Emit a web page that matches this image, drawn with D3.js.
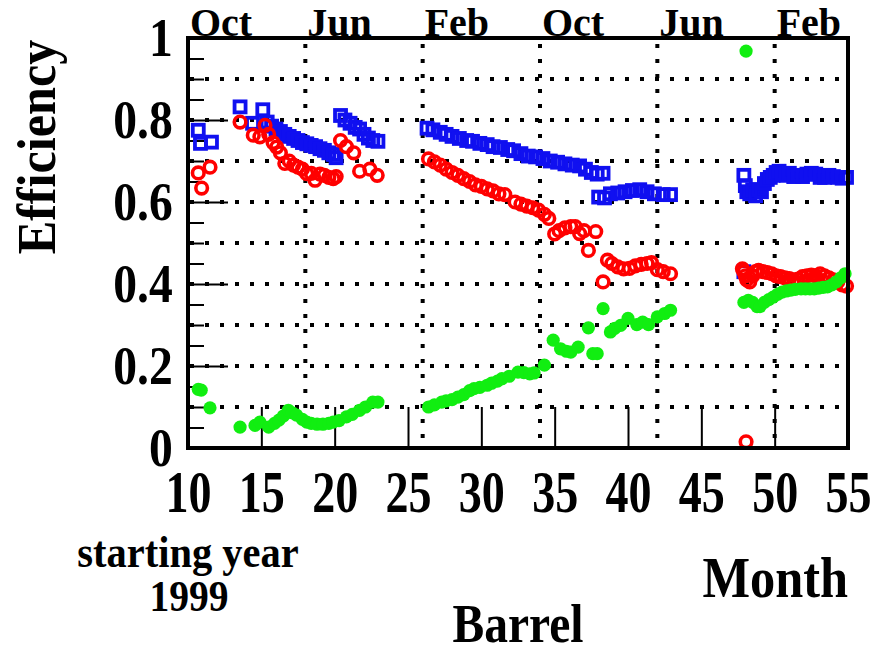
<!DOCTYPE html>
<html>
<head>
<meta charset="utf-8">
<script src="https://cdn.jsdelivr.net/npm/d3@7"></script>
<style>
  html, body { margin: 0; padding: 0; background: #fff; }
  svg { display: block; }
  text { font-family: "Liberation Serif", "DejaVu Serif", serif; font-weight: bold; fill: #000; }
</style>
</head>
<body>
<svg id="chart" width="874" height="655"></svg>
<script>
// ---------------- data ----------------
const xTicks = [10, 15, 20, 25, 30, 35, 40, 45, 50, 55];
const yTicks = [0, 0.2, 0.4, 0.6, 0.8, 1];
const yTickLabels = ["0", "0.2", "0.4", "0.6", "0.8", "1"];
const yMinorTicks = [0.05, 0.1, 0.15, 0.25, 0.3, 0.35, 0.45, 0.5, 0.55, 0.65, 0.7, 0.75, 0.85, 0.9, 0.95];
const yGrid = [0.1, 0.2, 0.3, 0.4, 0.5, 0.6, 0.7, 0.8, 0.9];
const monthPositions = [10, 18, 26, 34, 42, 50];
const monthLabels = ["Oct", "Jun", "Feb", "Oct", "Jun", "Feb"];

// blue open squares
const blueSquares = [
  [10.7,0.775],[10.85,0.743],[11.6,0.746],
  [13.55,0.832],[14.4,0.792],[15.1,0.825],[15.4,0.795],[15.7,0.785],[16.0,0.778],[16.3,0.772],
  [16.6,0.765],[16.9,0.760],[17.2,0.755],[17.5,0.750],[17.8,0.745],[18.1,0.742],[18.4,0.738],
  [18.7,0.735],[19.0,0.730],[19.3,0.726],[19.6,0.720],[19.9,0.716],[20.1,0.708],
  [20.4,0.811],[20.7,0.800],[21.05,0.792],[21.4,0.782],[21.7,0.778],[22.0,0.765],[22.3,0.756],[22.6,0.750],[22.95,0.748],
  [26.3,0.780],[26.7,0.776],[27.2,0.770],[27.6,0.765],[28.0,0.760],[28.5,0.755],[29.0,0.750],[29.4,0.748],
  [29.9,0.743],[30.4,0.740],[30.8,0.735],[31.3,0.733],[31.8,0.728],[32.2,0.725],[32.7,0.718],[33.2,0.712],
  [33.7,0.710],[34.2,0.706],[34.7,0.700],[35.2,0.697],[35.7,0.693],[36.2,0.690],[36.7,0.688],[37.1,0.680],
  [37.5,0.672],[37.9,0.668],[38.3,0.670],
  [38.0,0.612],[38.4,0.610],[38.8,0.620],[39.3,0.622],[39.8,0.625],[40.3,0.628],[40.8,0.630],[41.3,0.625],
  [41.8,0.620],[42.4,0.618],[42.9,0.618],
  [47.9,0.430],
  [47.9,0.665],[48.0,0.640],[48.1,0.625],[48.3,0.620],[48.5,0.630],[48.7,0.615],[48.9,0.630],[49.1,0.625],
  [49.3,0.645],[49.5,0.655],[49.7,0.660],[49.9,0.665],[50.1,0.672],[50.3,0.675],[50.5,0.668],[50.8,0.665],
  [51.0,0.670],[51.3,0.662],[51.6,0.665],[51.9,0.662],[52.2,0.668],[52.5,0.670],[52.8,0.668],[53.1,0.660],
  [53.4,0.660],[53.7,0.665],[54.0,0.662],[54.3,0.660],[54.6,0.658],[54.9,0.660]
];

// red open circles
const redCircles = [
  [10.7,0.671],[10.93,0.634],[11.5,0.685],
  [13.55,0.795],[14.45,0.763],[14.9,0.759],[15.25,0.787],[15.5,0.765],[15.8,0.745],[16.05,0.734],
  [16.3,0.720],[16.6,0.694],[16.9,0.700],[17.2,0.690],[17.5,0.685],[17.8,0.680],[18.1,0.669],
  [18.4,0.670],[18.66,0.653],[19.0,0.668],[19.3,0.665],[19.6,0.660],[19.9,0.657],[20.1,0.662],
  [20.4,0.750],[20.8,0.735],[21.3,0.720],[21.7,0.675],[22.4,0.680],[22.9,0.665],
  [26.4,0.705],[26.8,0.698],[27.2,0.690],[27.6,0.680],[28.0,0.672],[28.4,0.665],[28.8,0.657],[29.2,0.650],
  [29.6,0.642],[30.0,0.638],[30.4,0.632],[30.8,0.627],[31.2,0.620],[31.6,0.618],[32.3,0.600],[32.7,0.595],
  [33.1,0.590],[33.5,0.586],[33.9,0.580],[34.3,0.570],[34.6,0.560],[35.0,0.522],[35.3,0.530],[35.7,0.537],
  [36.1,0.540],[36.4,0.540],[36.7,0.523],[37.0,0.530],[37.3,0.482],[37.8,0.528],[38.3,0.405],[38.6,0.458],
  [38.9,0.450],[39.3,0.442],[39.7,0.437],[40.1,0.438],[40.5,0.444],[40.9,0.448],[41.3,0.450],[41.6,0.452],
  [42.0,0.435],[42.4,0.430],[42.9,0.425],
  [48.05,0.015],
  [47.8,0.437],[47.9,0.430],[48.0,0.420],[48.1,0.410],[48.3,0.405],[48.5,0.420],[48.7,0.430],[48.9,0.433],
  [49.2,0.430],[49.5,0.428],[49.8,0.425],[50.1,0.420],[50.4,0.418],[50.7,0.415],[51.0,0.413],[51.3,0.410],
  [51.6,0.412],[51.9,0.418],[52.2,0.420],[52.5,0.422],[52.8,0.420],[53.1,0.425],[53.4,0.420],[53.7,0.415],
  [54.0,0.410],[54.3,0.405],[54.6,0.398],[54.9,0.395]
];

// green filled circles
const greenDots = [
  [10.7,0.143],[10.9,0.141],[11.5,0.098],
  [13.55,0.051],[14.57,0.055],[14.9,0.063],[15.5,0.051],[15.9,0.060],[16.2,0.068],[16.5,0.078],[16.84,0.092],
  [17.1,0.086],[17.4,0.080],[17.8,0.070],[18.1,0.063],[18.4,0.060],[18.8,0.058],[19.2,0.058],[19.6,0.060],
  [19.9,0.063],[20.3,0.067],[20.8,0.076],[21.2,0.082],[21.7,0.092],[22.1,0.100],[22.6,0.112],[22.95,0.112],
  [26.4,0.100],[26.8,0.105],[27.3,0.112],[27.6,0.115],[28.0,0.118],[28.4,0.124],[28.8,0.130],[29.2,0.140],
  [29.5,0.145],[29.9,0.148],[30.4,0.153],[30.7,0.158],[31.1,0.163],[31.4,0.169],[31.9,0.175],[32.5,0.185],
  [32.9,0.184],[33.3,0.181],[33.6,0.183],[34.3,0.202],[34.9,0.263],[35.4,0.242],[35.8,0.236],[36.1,0.234],
  [36.6,0.246],[37.3,0.293],[37.6,0.230],[37.9,0.230],[38.3,0.340],[38.8,0.283],[39.1,0.292],[39.5,0.299],
  [40.0,0.316],[40.6,0.301],[41.0,0.307],[41.4,0.301],[42.0,0.320],[42.5,0.328],[42.9,0.336],
  [48.05,0.968],
  [47.9,0.355],[48.2,0.360],[48.5,0.355],[48.8,0.345],[49.0,0.345],[49.3,0.355],[49.6,0.362],[49.9,0.368],
  [50.2,0.375],[50.5,0.380],[50.8,0.383],[51.1,0.385],[51.4,0.387],[51.8,0.388],[52.1,0.388],[52.4,0.388],
  [52.7,0.388],[53.0,0.390],[53.3,0.392],[53.6,0.393],[53.9,0.398],[54.2,0.405],[54.5,0.415],[54.8,0.425]
];

// ---------------- layout ----------------
const svg = d3.select("#chart");
const L = 188, R = 848, T = 38, B = 448;
const x = d3.scaleLinear().domain([10, 55]).range([L, R]);
const y = d3.scaleLinear().domain([0, 1]).range([B, T]);

function condensed(parent, tx, ty, str, size, sx, anchor, rotate) {
  const g = parent.append("g")
    .attr("transform", `translate(${tx},${ty})` + (rotate ? ` rotate(${rotate})` : "") + ` scale(${sx},1)`);
  g.append("text").attr("x", 0).attr("y", 0)
    .attr("text-anchor", anchor || "start")
    .style("font-size", size + "px")
    .text(str);
  return g;
}

// grid: horizontal dotted
svg.append("g").selectAll("line").data(yGrid).join("line")
  .attr("x1", L).attr("x2", R)
  .attr("y1", d => y(d)).attr("y2", d => y(d))
  .attr("stroke", "#000").attr("stroke-width", 4)
  .attr("stroke-dasharray", "4 11").attr("stroke-dashoffset", -2);

// vertical month dotted lines
svg.append("g").selectAll("line").data(monthPositions.filter(d => d > 10)).join("line")
  .attr("x1", d => x(d)).attr("x2", d => x(d))
  .attr("y1", T).attr("y2", B)
  .attr("stroke", "#000").attr("stroke-width", 4)
  .attr("stroke-dasharray", "4 11").attr("stroke-dashoffset", -6);

// x axis major ticks (upward)
const xAxis = d3.axisBottom(x).tickValues(xTicks).tickSizeInner(-41).tickSizeOuter(0).tickFormat(d => d);
const gx = svg.append("g").attr("transform", `translate(0,${B})`).call(xAxis);
gx.select(".domain").remove();
gx.selectAll(".tick line").attr("stroke", "#000").attr("stroke-width", 2);
gx.selectAll(".tick text")
  .attr("y", 64).attr("dy", null)
  .attr("transform", "scale(0.78,1)")
  .style("font-size", "59px")
  .style("font-family", '"Liberation Serif", serif').style("font-weight", "bold");

// y axis major ticks
const yAxis = d3.axisLeft(y).tickValues(yTicks).tickSizeInner(-40).tickSizeOuter(0)
  .tickFormat((d, i) => yTickLabels[i]);
const gy = svg.append("g").attr("transform", `translate(${L},0)`).call(yAxis);
gy.select(".domain").remove();
gy.selectAll(".tick line").attr("stroke", "#000").attr("stroke-width", 2);
gy.selectAll(".tick text")
  .attr("x", -18).attr("dy", "0.32em")
  .attr("transform", "scale(0.85,1)")
  .style("font-size", "56px")
  .style("font-family", '"Liberation Serif", serif').style("font-weight", "bold");

// y minor ticks
const yMinor = d3.axisLeft(y).tickValues(yMinorTicks).tickSizeInner(-16).tickSizeOuter(0).tickFormat("");
const gym = svg.append("g").attr("transform", `translate(${L},0)`).call(yMinor);
gym.select(".domain").remove();
gym.selectAll(".tick line").attr("stroke", "#000").attr("stroke-width", 2);

// markers
svg.append("g").selectAll("rect").data(blueSquares).join("rect")
  .attr("x", d => x(d[0]) - 5.5).attr("y", d => y(d[1]) - 5.5)
  .attr("width", 11).attr("height", 11)
  .attr("fill", "none").attr("stroke", "#1010f0").attr("stroke-width", 3.8);

svg.append("g").selectAll("circle").data(redCircles).join("circle")
  .attr("cx", d => x(d[0])).attr("cy", d => y(d[1])).attr("r", 5.8)
  .attr("fill", "none").attr("stroke", "#ff0000").attr("stroke-width", 3.6);

svg.append("g").selectAll("circle").data(greenDots).join("circle")
  .attr("cx", d => x(d[0])).attr("cy", d => y(d[1])).attr("r", 6.6)
  .attr("fill", "#11ee11");

// frame
svg.append("rect").attr("x", L).attr("y", T).attr("width", R - L).attr("height", B - T)
  .attr("fill", "none").attr("stroke", "#000").attr("stroke-width", 4);

// month labels on top
monthPositions.forEach((m, i) => {
  condensed(svg, x(m) + 2, 36, monthLabels[i], 40, 1.0, "start");
});

// titles
condensed(svg, 55, 147, "Efficiency", 54, 0.93, "middle", -90);
condensed(svg, 188, 567, "starting year", 44, 0.92, "middle");
condensed(svg, 189, 611, "1999", 44, 0.9, "middle");
condensed(svg, 848, 597, "Month", 56, 0.9, "end");
condensed(svg, 518, 642, "Barrel", 54, 0.88, "middle");
</script>
</body>
</html>
